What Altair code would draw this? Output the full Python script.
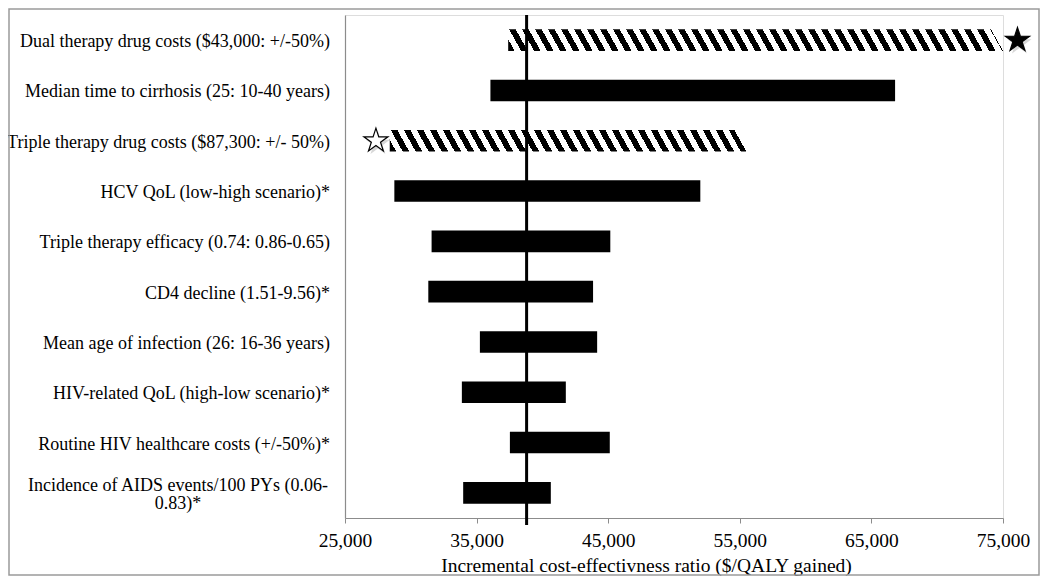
import math
import altair as alt
import pandas as pd

# ---------------- data ----------------
labels = [
    "Dual therapy drug costs ($43,000: +/-50%)",
    "Median time to cirrhosis (25: 10-40 years)",
    "Triple therapy drug costs ($87,300: +/- 50%)",
    "HCV QoL (low-high scenario)*",
    "Triple therapy efficacy (0.74: 0.86-0.65)",
    "CD4 decline (1.51-9.56)*",
    "Mean age of infection (26: 16-36 years)",
    "HIV-related QoL (high-low scenario)*",
    "Routine HIV healthcare costs (+/-50%)*",
    "Incidence of AIDS events/100 PYs (0.06-|0.83)*",
]
low_icer = [37400, 36050, 28400, 28750, 31580, 31330, 35250, 33880, 37530, 33980]
high_icer = [75000, 66800, 55500, 52000, 45160, 43850, 44160, 41780, 45120, 40640]
hatched = [True, False, True, False, False, False, False, False, False, False]

base_icer = [38800]

star_rows = [labels[0], labels[2]]
star_icer = [76100, 27350]
star_fill = ["black", "white"]

x_ticks = [25000, 35000, 45000, 55000, 65000, 75000]
x_title = "Incremental cost-effectivness ratio ($/QALY gained)"

# ---------------- layout / style ----------------
W, H = 658, 503
X_MIN, X_MAX = 25000, 75000
FONT = "Liberation Serif"
GRAY = "#8c8c8c"
STRIPE_PERIOD = 13.0   # px, horizontal period of the hatch
STRIPE_SHIFT = 12.0    # px, horizontal shift of a stripe from top to bottom


def star_path(inner=0.382):
    pts = []
    for i in range(10):
        r = 1.0 if i % 2 == 0 else inner
        a = math.radians(-90 + 36 * i)
        pts.append(f"{r * math.cos(a):.4f},{r * math.sin(a):.4f}")
    return "M" + "L".join(pts) + "Z"


STAR = star_path()

df = pd.DataFrame({"label": labels, "x": low_icer, "x2": high_icer, "hatched": hatched,
                   "wrapped": ["|" in s for s in labels]})
rule_df = pd.DataFrame({"x": base_icer})
star_df = pd.DataFrame({"label": star_rows, "x": star_icer, "fill": star_fill})
frame_df = pd.DataFrame({"k": [0]})

x_scale = alt.Scale(domain=[X_MIN, X_MAX], nice=False, zero=False)
x_axis = alt.Axis(
    values=x_ticks, format=",d", grid=False, orient="bottom",
    labelFont=FONT, labelFontSize=19.5, labelColor="black", labelPadding=8,
    labelFlush=False, labelOverlap=False,
    tickColor=GRAY, tickSize=5, domainColor=GRAY, domainWidth=1.2,
    titleFont=FONT, titleFontSize=19.5, titleFontWeight="normal", titleColor="black",
    titleX=301, titleY=53, titleBaseline="alphabetic", titleAlign="center",
)
y_scale = alt.Scale(paddingInner=0.57, paddingOuter=0.285)
y_axis = alt.Axis(title=None, ticks=False, labels=False, grid=False,
                  domainColor=GRAY, domainWidth=1.2, orient="left")

X = alt.X("x:Q", scale=x_scale, axis=x_axis, title=x_title)
Y = alt.Y("label:N", sort=labels, scale=y_scale, axis=y_axis)


def hatch_fill(lo, hi):
    w = (hi - lo) * W / (X_MAX - X_MIN)
    k = STRIPE_SHIFT / w
    n = w / STRIPE_PERIOD
    stops = []
    i = 0
    while i < n:
        a, b, c = i / n, min((i + 0.5) / n, 1.0), min((i + 1) / n, 1.0)
        stops += [(a, "black"), (b, "black"), (b, "white"), (c, "white")]
        i += 1
    d = 1 + k * k
    return alt.Gradient(
        gradient="linear",
        stops=[alt.GradientStop(offset=round(o, 5), color=col) for o, col in stops],
        x1=0, y1=1, x2=round(1 / d, 6), y2=round(1 - k / d, 6),
    )


base = alt.Chart(df)
solid = base.transform_filter("!datum.hatched").mark_bar(color="black").encode(
    x=X, x2="x2:Q", y=Y
)

hatch_layers = []
for lab, lo, hi, h in zip(labels, low_icer, high_icer, hatched):
    if h:
        hatch_layers.append(
            alt.Chart(df[df["label"] == lab]).mark_bar(fill=hatch_fill(lo, hi)).encode(
                x=X, x2="x2:Q", y=Y
            )
        )

# category labels drawn as text so the wrapped one can be centred like the original
label_right = base.transform_filter("!datum.wrapped").mark_text(
    align="right", baseline="middle", font=FONT, fontSize=18, color="black", dy=2
).encode(x=alt.value(-15), y=Y, text="label:N")
label_wrap = base.transform_filter("datum.wrapped").mark_text(
    align="center", baseline="middle", font=FONT, fontSize=18, color="black",
    lineBreak="|", lineHeight=18, dy=-7
).encode(x=alt.value(-167), y=Y, text="label:N")

rule = alt.Chart(rule_df).mark_rule(color="black", strokeWidth=3).encode(
    x=X, y=alt.value(0), y2=alt.value(H + 7)
)

shadow = alt.Chart(star_df).mark_point(
    shape=STAR, size=640, filled=True, color="#9a9a9a", opacity=0.4, xOffset=2, yOffset=3
).encode(x=X, y=Y)

stars = alt.Chart(star_df).mark_point(
    shape=STAR, size=640, filled=True, stroke="black", strokeWidth=1.2, opacity=1
).encode(x=X, y=Y, fill=alt.Fill("fill:N", scale=None, legend=None))

frame = alt.Chart(frame_df).mark_rect(fill="white", fillOpacity=0, stroke="#9a9a9a", strokeWidth=1.5).encode(
    x=alt.value(-336), x2=alt.value(W + 36), y=alt.value(-6), y2=alt.value(H + 57)
)

chart = alt.layer(solid, *hatch_layers, label_right, label_wrap, rule, shadow, stars, frame).properties(
    width=W, height=H,
    autosize=alt.AutoSizeParams(type="none"),
    padding={"left": 337, "top": 7, "right": 37, "bottom": 58},
).configure_view(stroke=None).configure(background="white")

chart.save("out.html", embed_options={"renderer": "svg", "actions": False})
